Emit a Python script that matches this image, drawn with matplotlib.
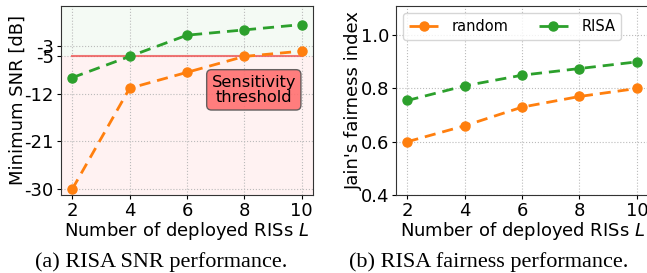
import matplotlib
matplotlib.use("Agg")
import matplotlib.pyplot as plt

L = [2, 4, 6, 8, 10]
snr_random = [-30, -11, -8, -5, -4]
snr_risa = [-9, -5, -1, 0, 1]
fair_random = [0.60, 0.66, 0.73, 0.77, 0.80]
fair_risa = [0.755, 0.81, 0.85, 0.875, 0.90]
snr_ticks = [-30, -21, -12, -5, -3]
fair_ticks = [0.4, 0.6, 0.8, 1.0]
threshold = -5

orange = "#ff7f0e"
green = "#2ca02c"

fig = plt.figure(figsize=(6.47, 2.73), dpi=100)
ax1 = fig.add_axes([0.094, 0.286, 0.390, 0.692])
ax2 = fig.add_axes([0.612, 0.286, 0.390, 0.692])

fs = 13
# Left
ax1.axhspan(threshold, 4.5, color=green, alpha=0.05, lw=0)
ax1.axhspan(-31.1, threshold, color="#ff9999", alpha=0.12, lw=0)
ax1.plot([L[0], L[-1]], [threshold, threshold], color="#ee5555", lw=1.5, alpha=0.8)
ax1.plot(L, snr_random, "--o", color=orange, lw=2, ms=6.5, dashes=(4, 2.5))
ax1.plot(L, snr_risa, "--o", color=green, lw=2, ms=6.5, dashes=(4, 2.5))
ax1.set_xlim(1.6, 10.4)
ax1.set_ylim(-31.1, 4.5)
ax1.set_yticks(snr_ticks)
ax1.set_yticklabels([str(t) for t in snr_ticks])
ax1.set_xticks(L)
ax1.grid(True, linestyle=":", color="#bbbbbb", lw=0.8)
ax1.tick_params(labelsize=fs, length=3, pad=2)
ax1.set_xlabel("Number of deployed RISs $L$", fontsize=fs, labelpad=0)
ax1.set_ylabel("Minimum SNR [dB]", fontsize=fs)
ax1.yaxis.set_label_coords(-0.135, 0.5)
ax1.text(8.33, -11.3, "Sensitivity\nthreshold", fontsize=11.7, ha="center", va="center",
         linespacing=1.05,
         bbox=dict(boxstyle="round,pad=0.3", fc="#ff7070", ec="#555555", alpha=0.9, lw=1))

# Right
ax2.plot(L, fair_random, "--o", color=orange, lw=2, ms=6.5, dashes=(4, 2.5), label="random")
ax2.plot(L, fair_risa, "--o", color=green, lw=2, ms=6.5, dashes=(4, 2.5), label="RISA")
ax2.set_xlim(1.6, 10.4)
ax2.set_ylim(0.4, 1.11)
ax2.set_yticks(fair_ticks)
ax2.set_xticks(L)
ax2.grid(True, linestyle=":", color="#bbbbbb", lw=0.8)
ax2.tick_params(labelsize=fs, length=3, pad=2)
ax2.set_xlabel("Number of deployed RISs $L$", fontsize=fs, labelpad=0)
ax2.set_ylabel("Jain's fairness index", fontsize=fs)
ax2.yaxis.set_label_coords(-0.131, 0.5)
ax2.legend(loc="upper left", ncol=2, fontsize=10.5, handlelength=2.0, handletextpad=0.9,
           columnspacing=2.1, borderaxespad=0.5, framealpha=0.8)

for ax in (ax1, ax2):
    for s in ax.spines.values():
        s.set_color("#333333")

fig.text(0.249, 0.04, "(a) RISA SNR performance.", ha="center", va="center",
         fontsize=16, family="Liberation Serif")
fig.text(0.756, 0.04, "(b) RISA fairness performance.", ha="center", va="center",
         fontsize=16, family="Liberation Serif")

fig.savefig("out.png", dpi=100)
